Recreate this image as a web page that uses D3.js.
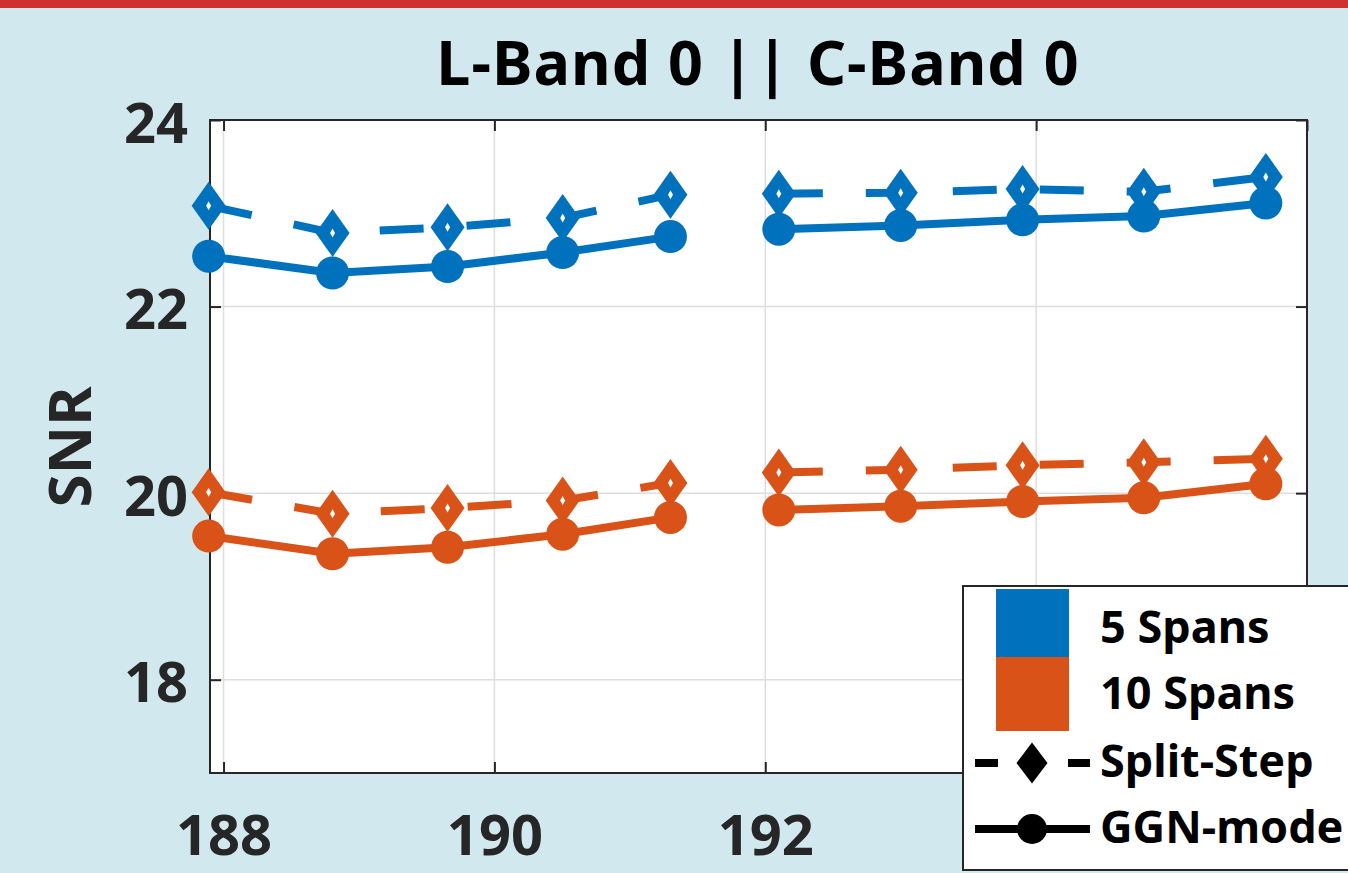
<!DOCTYPE html>
<html><head><meta charset="utf-8">
<script src="https://cdn.jsdelivr.net/npm/d3@7"></script>
<style>
body{margin:0;background:#d0e8ee;overflow:hidden;}
svg{display:block;font-family:"Noto Sans","Open Sans",sans-serif;font-weight:bold;}
</style>
</head><body>
<svg id="chart" width="1348" height="873"></svg>
<script>
// ---- data ----
const frequencies = [187.89, 188.805, 189.654, 190.504, 191.30, 192.10, 193.0, 193.90, 194.795, 195.696];
const bandStarts = [0, 5];          // L-band: points 0-4, C-band: points 5-9
const snr5SplitStep = [23.08, 22.79, 22.85, 22.95, 23.20, 23.21, 23.22, 23.26, 23.23, 23.39];
const snr5GGN       = [22.54, 22.36, 22.43, 22.58, 22.75, 22.83, 22.87, 22.93, 22.97, 23.11];
const snr10SplitStep= [20.01, 19.78, 19.84, 19.92, 20.11, 20.22, 20.25, 20.30, 20.33, 20.37];
const snr10GGN      = [19.54, 19.35, 19.42, 19.56, 19.74, 19.82, 19.86, 19.91, 19.95, 20.10];
const xTicks = [188, 190, 192, 194, 196];
const yTicks = [18, 20, 22, 24];
const titleText = "L-Band 0 || C-Band 0";
const yLabel = "SNR";
const legendSpans = ["5 Spans", "10 Spans"];
const legendMethods = ["Split-Step", "GGN-mode"];

// ---- layout ----
const W = 1348, H = 873;
const m = {left: 210, right: 1307, top: 120, bottom: 773};
const legendBox = {x: 963, y: 586, w: 420, h: 284};
const blue = "#0072bd", orange = "#d95319";
const svg = d3.select("#chart");

svg.append("rect").attr("x",0).attr("y",0).attr("width",W).attr("height",H).attr("fill","#d0e8ee");
svg.append("rect").attr("x",0).attr("y",0).attr("width",W).attr("height",8).attr("fill","#cf3030");

const x = d3.scaleLinear().domain([187.9, 196]).range([m.left, m.right]);
const y = d3.scaleLinear().domain([17, 24]).range([m.bottom, m.top]);

// plot background
svg.append("rect").attr("x",m.left).attr("y",m.top).attr("width",m.right-m.left).attr("height",m.bottom-m.top).attr("fill","#fff");

// grid
const grid = svg.append("g").attr("stroke","#dedede").attr("stroke-width",1.5);
grid.selectAll(".gx").data(xTicks.filter(t=>x(t)>m.left+2 && x(t)<m.right-2)).join("line")
  .attr("x1",d=>x(d)).attr("x2",d=>x(d)).attr("y1",m.top).attr("y2",m.bottom);
grid.selectAll(".gy").data(yTicks.filter(t=>y(t)>m.top+2 && y(t)<m.bottom-2)).join("line")
  .attr("y1",d=>y(d)).attr("y2",d=>y(d)).attr("x1",m.left).attr("x2",m.right);

// axes
function styleAxis(g){
  g.select(".domain").remove();
  g.selectAll(".tick line").attr("stroke","#262626").attr("stroke-width",2);
  g.selectAll(".tick text").attr("fill","#262626").style("font-size","56px").style("font-weight","bold")
    .style("font-family",'"Noto Sans","Open Sans",sans-serif');
}
const xb = svg.append("g").attr("transform",`translate(0,${m.bottom})`)
  .call(d3.axisBottom(x).tickValues(xTicks).tickSizeInner(-11).tickSizeOuter(0).tickFormat(d3.format("d")));
styleAxis(xb);
xb.selectAll(".tick text").attr("y",82).attr("dy",0);
// labels that sit behind the legend box are hidden in the original
xb.selectAll(".tick text").filter(d=>x(d)+40>legendBox.x).remove();
const xt = svg.append("g").attr("transform",`translate(0,${m.top})`)
  .call(d3.axisTop(x).tickValues(xTicks).tickSizeInner(-11).tickSizeOuter(0).tickFormat(""));
styleAxis(xt);
const yl = svg.append("g").attr("transform",`translate(${m.left},0)`)
  .call(d3.axisLeft(y).tickValues(yTicks).tickSizeInner(-11).tickSizeOuter(0).tickFormat(d3.format("d")));
styleAxis(yl);
yl.selectAll(".tick text").attr("x",-22).attr("dy",0).attr("y",22);
const yr = svg.append("g").attr("transform",`translate(${m.right},0)`)
  .call(d3.axisRight(y).tickValues(yTicks).tickSizeInner(-11).tickSizeOuter(0).tickFormat(""));
styleAxis(yr);

// box
svg.append("rect").attr("x",m.left).attr("y",m.top).attr("width",m.right-m.left).attr("height",m.bottom-m.top)
  .attr("fill","none").attr("stroke","#262626").attr("stroke-width",2);

// series
const series = [
  {vals: snr5SplitStep, color: blue, dashed: true},
  {vals: snr5GGN, color: blue, dashed: false},
  {vals: snr10SplitStep, color: orange, dashed: true},
  {vals: snr10GGN, color: orange, dashed: false}
];
const line = d3.line().x(d=>x(d.f)).y(d=>y(d.v));
const diamondPath = (w,h) => `M0,${-h}L${w},0L0,${h}L${-w},0Z`;

series.forEach(s=>{
  const pts = frequencies.map((f,i)=>({f, v:s.vals[i]}));
  const segs = bandStarts.map((st,k)=>pts.slice(st, k+1<bandStarts.length?bandStarts[k+1]:pts.length));
  const g = svg.append("g");
  segs.forEach(seg=>{
    g.append("path").attr("d",line(seg)).attr("fill","none").attr("stroke",s.color)
      .attr("stroke-width",8).attr("stroke-dasharray",s.dashed?"44,43":null);
  });
  if (s.dashed){
    const mk = g.selectAll(".dm").data(pts).join("g").attr("transform",d=>`translate(${x(d.f)},${y(d.v)})`);
    mk.append("path").attr("d",diamondPath(17,24)).attr("fill",s.color);
    mk.append("path").attr("d",diamondPath(2.5,4.5)).attr("fill","#fff");
  } else {
    g.selectAll(".cm").data(pts).join("circle").attr("cx",d=>x(d.f)).attr("cy",d=>y(d.v)).attr("r",16.5).attr("fill",s.color);
  }
});

// title & label
svg.append("text").attr("x",758).attr("y",85).attr("text-anchor","middle").style("font-size","61px")
  .style("letter-spacing","1px").attr("fill","#000").text(titleText);
svg.append("text").attr("transform","translate(91,447) rotate(-90)").attr("text-anchor","middle")
  .style("font-size","60px").attr("fill","#262626").text(yLabel);

// legend
const lg = svg.append("g");
lg.append("rect").attr("x",legendBox.x).attr("y",legendBox.y).attr("width",legendBox.w).attr("height",legendBox.h)
  .attr("fill","#fff").attr("stroke","#262626").attr("stroke-width",2);
lg.append("rect").attr("x",996).attr("y",589).attr("width",73).attr("height",68).attr("fill",blue);
lg.append("rect").attr("x",996).attr("y",657).attr("width",73).attr("height",74).attr("fill",orange);
lg.append("text").attr("x",1100).attr("y",643).style("font-size","45px").text(legendSpans[0]);
lg.append("text").attr("x",1100).attr("y",709).style("font-size","45px").text(legendSpans[1]);
lg.append("line").attr("x1",975).attr("x2",998).attr("y1",763).attr("y2",763).attr("stroke","#000").attr("stroke-width",8);
lg.append("line").attr("x1",1068).attr("x2",1090).attr("y1",763).attr("y2",763).attr("stroke","#000").attr("stroke-width",8);
lg.append("path").attr("transform","translate(1032,763)").attr("d",diamondPath(15.5,20.5)).attr("fill","#000");
lg.append("text").attr("x",1100).attr("y",777).style("font-size","45px").text(legendMethods[0]);
lg.append("line").attr("x1",975).attr("x2",1090).attr("y1",829).attr("y2",829).attr("stroke","#000").attr("stroke-width",8);
lg.append("circle").attr("cx",1032).attr("cy",829).attr("r",15).attr("fill","#000");
lg.append("text").attr("x",1100).attr("y",843).style("font-size","45px").text(legendMethods[1]);
</script>
</body></html>
